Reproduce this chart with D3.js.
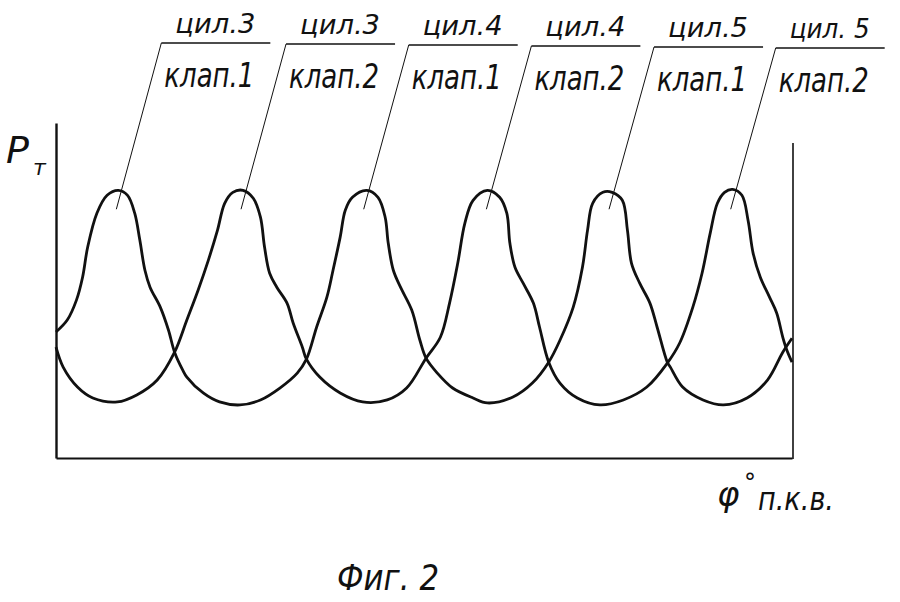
<!DOCTYPE html>
<html><head><meta charset="utf-8">
<script src="https://cdn.jsdelivr.net/npm/d3@7"></script>
<style>body{margin:0;background:#fff}</style>
</head><body>
<svg id="c" width="900" height="602"></svg>
<script>
// φ (degrees of crank rotation) vs. relative pressure P (0..101)
const curveA = [[0,38.0],[11,41.6],[20,47.6],[26,54.5],[31,63.6],[40,73.8],[50,79.2],[61,80.7],[70,79.2],[77,73.8],[82,65.7],[87,56.6],[92,51.5],[102,45.5],[110,38.6],[116,31.9],[124,26.5],[128,24.4],[144,19.6],[160,16.9],[180,16.0],[200,17.5],[219,21.1],[236,25.6],[245,29.8],[255,39.5],[265,48.5],[271,56.6],[278,66.6],[283,74.7],[290,78.6],[304,80.7],[315,78.6],[322,72.6],[325,64.8],[330,56.6],[337,51.5],[348,44.6],[356,35.5],[362,30.1],[373,25.6],[388,21.1],[408,18.1],[422,16.6],[447,18.4],[466,22.6],[482,28.9],[493,35.5],[506,45.5],[515,57.5],[520,68.7],[525,76.8],[535,80.1],[544,80.1],[554,77.7],[559,68.7],[563,58.7],[571,52.7],[581,46.7],[588,39.5],[598,28.9],[601,27.4],[613,21.4],[633,17.5],[653,16.0],[676,18.1],[696,23.5],[711,31.9],[720,36.1]];
const curveB = [[0,33.4],[7,27.4],[21,21.4],[36,18.1],[60,16.9],[79,19.0],[99,23.5],[116,31.9],[128,41.6],[139,50.6],[149,59.6],[158,68.7],[165,76.8],[173,80.1],[183,80.7],[193,78.3],[200,72.6],[204,63.6],[209,55.7],[216,51.5],[226,46.7],[232,40.7],[241,33.4],[245,29.8],[258,24.4],[278,19.6],[300,16.9],[324,17.5],[343,21.1],[362,30.1],[376,36.4],[385,46.7],[393,58.7],[400,70.8],[408,77.7],[422,80.7],[434,78.6],[441,73.8],[444,64.8],[449,57.5],[457,52.7],[467,46.7],[473,39.5],[482,28.9],[493,22.6],[510,18.1],[532,16.0],[555,17.5],[578,21.4],[598,28.6],[610,34.6],[623,45.5],[632,55.7],[640,67.8],[647,76.8],[654,80.1],[662,81.0],[671,79.2],[677,71.7],[682,61.7],[689,54.5],[698,48.5],[705,43.7],[711,36.4],[715,32.5],[720,28.9]];
const peakPhi = [60, 182, 302, 422, 542, 661];
const leaderP = 75;
const cylLabels = ["цил.3", "цил.3", "цил.4", "цил.4", "цил.5", "цил. 5"];
const valveLabels = ["клап.1", "клап.2", "клап.1", "клап.2", "клап.1", "клап.2"];
const yLabelMain = "P", yLabelSub = "т";
const xLabelSym = "φ", xLabelDeg = "°", xLabelText = "п.к.в.";
const caption = "Фиг. 2";

const svg = d3.select("#c");
const x = d3.scaleLinear().domain([0, 720]).range([56, 792]);
const y = d3.scaleLinear().domain([0, 101]).range([458, 123]);
const ink = "#111";
const font = "'DejaVu Sans', sans-serif";

// axes
const gx = svg.append("g").attr("transform", `translate(0,${y(0)})`)
  .call(d3.axisBottom(x).tickValues([]).tickSizeOuter(0));
gx.select(".domain").attr("stroke", ink).attr("stroke-width", 2.2);
const gy = svg.append("g").attr("transform", `translate(${x(0)},0)`)
  .call(d3.axisLeft(y).tickValues([]).tickSizeOuter(0));
gy.select(".domain").attr("stroke", ink).attr("stroke-width", 2.4);
svg.append("line").attr("x1", x(720) + 1).attr("x2", x(720) + 1)
  .attr("y1", y(0) + 1).attr("y2", y(95))
  .attr("stroke", ink).attr("stroke-width", 1.6);

// curves
const line = d3.line().x(d => x(d[0])).y(d => y(d[1])).curve(d3.curveCatmullRom.alpha(0.5));
[curveA, curveB].forEach(c => {
  svg.append("path").datum(c).attr("d", line)
    .attr("fill", "none").attr("stroke", ink).attr("stroke-width", 2.8)
    .attr("stroke-linejoin", "round");
});

// leaders and labels
peakPhi.forEach((p, i) => {
  const bx = x(p) - 1, by = y(leaderP);
  const tx = x(p) + 44, ty = 43 + i;
  const g = svg.append("g");
  g.append("line").attr("x1", bx).attr("y1", by).attr("x2", tx).attr("y2", ty)
    .attr("stroke", ink).attr("stroke-width", 1);
  g.append("line").attr("x1", tx).attr("y1", ty).attr("x2", tx + 109).attr("y2", ty)
    .attr("stroke", ink).attr("stroke-width", 1.3);
  g.append("text").attr("x", tx + 14).attr("y", ty - 10)
    .attr("font-family", font).attr("font-style", "italic").attr("font-size", 26)
    .attr("textLength", 80).attr("lengthAdjust", "spacingAndGlyphs")
    .attr("fill", ink).text(cylLabels[i]);
  g.append("text").attr("x", tx + 3).attr("y", ty + 44)
    .attr("font-family", font).attr("font-style", "italic").attr("font-size", 33)
    .attr("textLength", 90).attr("lengthAdjust", "spacingAndGlyphs")
    .attr("fill", ink).text(valveLabels[i]);
});

// y label
svg.append("text").attr("x", 6).attr("y", 163)
  .attr("font-family", font).attr("font-style", "italic").attr("font-size", 38)
  .attr("fill", ink).text(yLabelMain);
svg.append("text").attr("x", 33).attr("y", 175)
  .attr("font-family", font).attr("font-style", "italic").attr("font-size", 22)
  .attr("fill", ink).text(yLabelSub);

// x label
svg.append("text").attr("x", 717).attr("y", 506)
  .attr("font-family", font).attr("font-style", "italic").attr("font-size", 34)
  .attr("fill", ink).text(xLabelSym);
svg.append("text").attr("x", 744).attr("y", 491)
  .attr("font-family", font).attr("font-size", 24)
  .attr("fill", ink).text(xLabelDeg);
svg.append("text").attr("x", 758).attr("y", 510)
  .attr("font-family", font).attr("font-style", "italic").attr("font-size", 32)
  .attr("textLength", 76).attr("lengthAdjust", "spacingAndGlyphs")
  .attr("fill", ink).text(xLabelText);

// caption
svg.append("text").attr("x", 337).attr("y", 590)
  .attr("font-family", font).attr("font-style", "italic").attr("font-size", 36)
  .attr("textLength", 102).attr("lengthAdjust", "spacingAndGlyphs")
  .attr("fill", ink).text(caption);
</script>
</body></html>
